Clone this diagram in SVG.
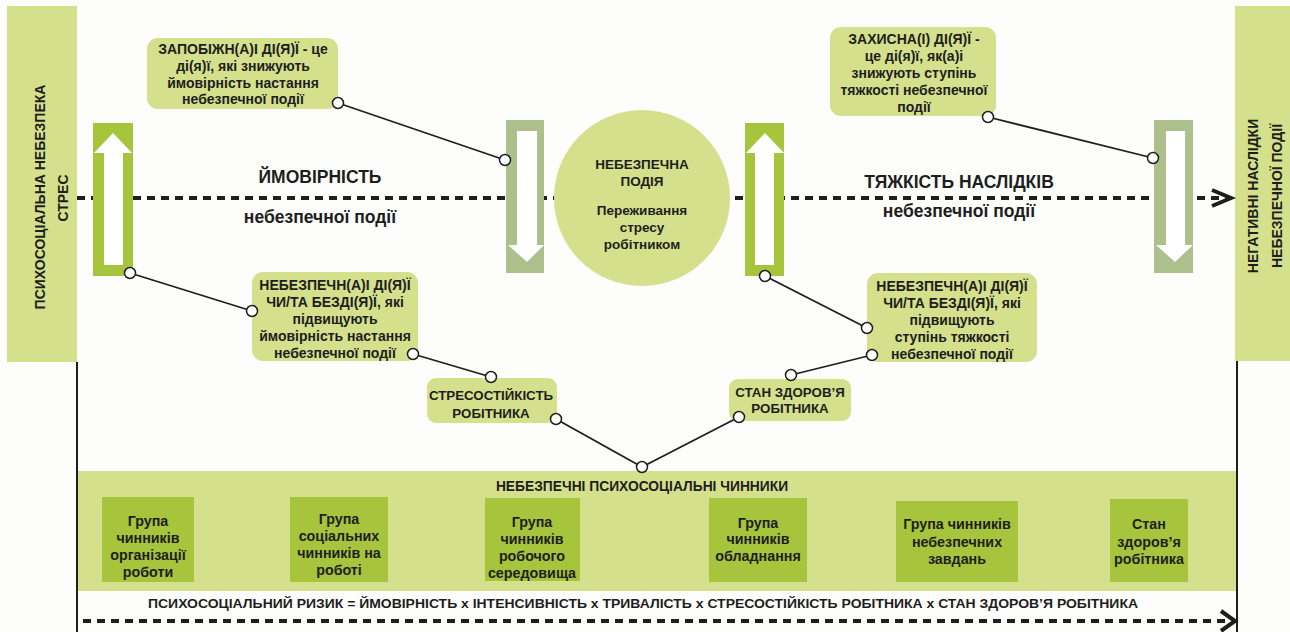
<svg xmlns="http://www.w3.org/2000/svg" width="1290" height="632" viewBox="0 0 1290 632">
<defs>
<style>
.lg{fill:#d4e08b}
.bg{fill:#a6c43c}
.gg{fill:#adbf8b}
.wh{fill:#ffffff}
.t{font-family:"Liberation Sans",Arial,sans-serif;font-weight:bold;fill:#1e1e1e;text-anchor:middle}
.s13{font-size:13.5px}
.sb{font-size:14px}
.sg{font-size:14.3px}
.sh{font-size:13.8px}
.s12{font-size:13.3px}
.s14{font-size:14px}
.s18{font-size:17.5px}
.ln{stroke:#1e1e1e;stroke-width:1.8;fill:none}
.dash{stroke:#1e1e1e;stroke-width:4;stroke-dasharray:8 6;fill:none}
.chev{stroke:#1e1e1e;stroke-width:4;fill:none;stroke-linejoin:miter}
.dot{fill:#ffffff;stroke:#1e1e1e;stroke-width:1.5}
.vl{stroke:#1e1e1e;stroke-width:2}
</style>
</defs>
<rect x="0" y="0" width="1290" height="632" fill="#fdfdfb"/>

<g id="bottom-band">
<rect class="lg" x="77" y="471" width="1160" height="120"/>
<text class="t sh" x="642" y="491">НЕБЕЗПЕЧНІ ПСИХОСОЦІАЛЬНІ ЧИННИКИ</text>
</g>

<g id="left-bar">
<rect class="lg" x="7" y="6" width="70" height="356"/>
<text class="t s14" transform="translate(45,197) rotate(-90)">ПСИХОСОЦІАЛЬНА НЕБЕЗПЕКА</text>
<text class="t s14" transform="translate(68,198) rotate(-90)">СТРЕС</text>
</g>
<g id="right-bar">
<rect class="lg" x="1235" y="6" width="55" height="355"/>
<text class="t s14" transform="translate(1258,196) rotate(-90)">НЕГАТИВНІ НАСЛІДКИ</text>
<text class="t s14" transform="translate(1282,196) rotate(-90)">НЕБЕЗПЕЧНОЇ ПОДІЇ</text>
</g>

<g id="connectors">
<line class="vl" x1="77" y1="362" x2="77" y2="632"/>
<line class="vl" x1="1237" y1="361" x2="1237" y2="632"/>
<line class="dash" x1="77" y1="198" x2="1226" y2="198"/>
<polyline class="chev" points="1212,190 1231,198 1212,206"/>
<line class="dash" x1="83" y1="621" x2="1230" y2="621"/>
<polyline class="chev" points="1221,611 1235,621 1221,631"/>
<line class="ln" x1="338" y1="103" x2="505" y2="160"/>
<line class="ln" x1="988" y1="117" x2="1153" y2="158"/>
<line class="ln" x1="130" y1="273" x2="252" y2="311"/>
<line class="ln" x1="413" y1="354" x2="491" y2="377"/>
<line class="ln" x1="556" y1="419" x2="642" y2="467"/>
<line class="ln" x1="642" y1="467" x2="739" y2="417"/>
<line class="ln" x1="791" y1="375" x2="872" y2="355"/>
<line class="ln" x1="765" y1="276" x2="867" y2="328"/>
</g>

<g id="arrow-left-up">
<rect class="bg" x="93" y="123" width="40" height="153"/>
<polygon class="wh" points="113,133 132,153 123,153 123,265 104,265 104,153 94,153"/>
</g>
<g id="arrow-left-down">
<rect class="gg" x="506" y="120" width="38" height="153"/>
<polygon class="wh" points="517,131 537,131 537,245 544,245 527,262 508,245 517,245"/>
</g>
<g id="arrow-right-up">
<rect class="bg" x="745" y="123" width="39" height="153"/>
<polygon class="wh" points="765,133 784,153 774,153 774,265 755,265 755,153 746,153"/>
</g>
<g id="arrow-right-down">
<rect class="gg" x="1154" y="120" width="39" height="153"/>
<polygon class="wh" points="1166,131 1185,131 1185,245 1193,245 1175,262 1156,245 1166,245"/>
</g>

<g id="labels">
<text class="t s18" x="320" y="183">ЙМОВІРНІСТЬ</text>
<text class="t s18" x="320" y="223">небезпечної події</text>
<text class="t s18" x="959" y="188">ТЯЖКІСТЬ НАСЛІДКІВ</text>
<text class="t s18" x="959" y="217">небезпечної події</text>
</g>

<g id="event">
<circle class="lg" cx="642" cy="198" r="88"/>
<text class="t s13" x="642" y="169">НЕБЕЗПЕЧНА</text>
<text class="t s13" x="642" y="186">ПОДІЯ</text>
<text class="t s13" x="642" y="215">Переживання</text>
<text class="t s13" x="642" y="232">стресу</text>
<text class="t s13" x="642" y="249">робітником</text>
</g>

<g id="preventive">
<rect class="lg" x="147" y="38" width="191" height="71" rx="11"/>
<text class="t sb" x="243" y="54">ЗАПОБІЖН(А)І ДІ(Я)Ї - це</text>
<text class="t sb" x="243" y="71">ді(я)ї, які знижують</text>
<text class="t sb" x="243" y="88">ймовірність настання</text>
<text class="t sb" x="243" y="104">небезпечної події</text>
</g>

<g id="protective">
<rect class="lg" x="830" y="27" width="166" height="89" rx="11"/>
<text class="t sb" x="914" y="44">ЗАХИСНА(І) ДІ(Я)Ї -</text>
<text class="t sb" x="914" y="61">це ді(я)ї, як(а)і</text>
<text class="t sb" x="914" y="78">знижують ступінь</text>
<text class="t sb" x="914" y="95">тяжкості небезпечної</text>
<text class="t sb" x="914" y="112">події</text>
</g>

<g id="hazard-probability">
<rect class="lg" x="252" y="272" width="166" height="89" rx="11"/>
<text class="t sb" x="335" y="290">НЕБЕЗПЕЧН(А)І ДІ(Я)Ї</text>
<text class="t sb" x="335" y="307">ЧИ/ТА БЕЗДІ(Я)Ї, які</text>
<text class="t sb" x="335" y="324">підвищують</text>
<text class="t sb" x="335" y="341">ймовірність настання</text>
<text class="t sb" x="335" y="358">небезпечної події</text>
</g>

<g id="hazard-severity">
<rect class="lg" x="867" y="273" width="170" height="89" rx="11"/>
<text class="t sb" x="952" y="291">НЕБЕЗПЕЧН(А)І ДІ(Я)Ї</text>
<text class="t sb" x="952" y="308">ЧИ/ТА БЕЗДІ(Я)Ї, які</text>
<text class="t sb" x="952" y="325">підвищують</text>
<text class="t sb" x="952" y="342">ступінь тяжкості</text>
<text class="t sb" x="952" y="359">небезпечної події</text>
</g>

<g id="stress-resistance">
<rect class="lg" x="427" y="378" width="130" height="45" rx="9"/>
<text class="t s12" x="491" y="400">СТРЕСОСТІЙКІСТЬ</text>
<text class="t s12" x="491" y="418">РОБІТНИКА</text>
</g>

<g id="health">
<rect class="lg" x="729" y="379" width="122" height="42" rx="9"/>
<text class="t s12" x="790" y="397">СТАН ЗДОРОВ’Я</text>
<text class="t s12" x="790" y="413">РОБІТНИКА</text>
</g>

<g id="dots">
<circle class="dot" cx="338" cy="103" r="5.5"/>
<circle class="dot" cx="505" cy="160" r="5.5"/>
<circle class="dot" cx="988" cy="117" r="5.5"/>
<circle class="dot" cx="1153" cy="158" r="5.5"/>
<circle class="dot" cx="130" cy="273" r="5.5"/>
<circle class="dot" cx="252" cy="311" r="5.5"/>
<circle class="dot" cx="413" cy="354" r="5.5"/>
<circle class="dot" cx="491" cy="377" r="5.5"/>
<circle class="dot" cx="556" cy="419" r="5.5"/>
<circle class="dot" cx="642" cy="467" r="5.5"/>
<circle class="dot" cx="739" cy="417" r="5.5"/>
<circle class="dot" cx="791" cy="375" r="5.5"/>
<circle class="dot" cx="872" cy="355" r="5.5"/>
<circle class="dot" cx="765" cy="276" r="5.5"/>
<circle class="dot" cx="867" cy="328" r="5.5"/>
</g>

<g id="group-organisation">
<rect class="bg" x="102" y="497" width="92" height="85"/>
<text class="t sg" x="148" y="526">Група</text>
<text class="t sg" x="148" y="543">чинників</text>
<text class="t sg" x="148" y="560">організації</text>
<text class="t sg" x="148" y="577">роботи</text>
</g>
<g id="group-social">
<rect class="bg" x="290" y="497" width="98" height="85"/>
<text class="t sg" x="339" y="524">Група</text>
<text class="t sg" x="339" y="541">соціальних</text>
<text class="t sg" x="339" y="558">чинників на</text>
<text class="t sg" x="339" y="575">роботі</text>
</g>
<g id="group-environment">
<rect class="bg" x="485" y="498" width="95" height="83"/>
<text class="t sg" x="532" y="527">Група</text>
<text class="t sg" x="532" y="544">чинників</text>
<text class="t sg" x="532" y="561">робочого</text>
<text class="t sg" x="532" y="578">середовища</text>
</g>
<g id="group-equipment">
<rect class="bg" x="709" y="498" width="98" height="84"/>
<text class="t sg" x="758" y="528">Група</text>
<text class="t sg" x="758" y="544">чинників</text>
<text class="t sg" x="758" y="561">обладнання</text>
</g>
<g id="group-tasks">
<rect class="bg" x="896" y="501" width="122" height="81"/>
<text class="t sg" x="957" y="529">Група чинників</text>
<text class="t sg" x="957" y="547">небезпечних</text>
<text class="t sg" x="957" y="564">завдань</text>
</g>
<g id="group-health">
<rect class="bg" x="1110" y="499" width="78" height="83"/>
<text class="t sg" x="1149" y="529">Стан</text>
<text class="t sg" x="1149" y="547">здоров’я</text>
<text class="t sg" x="1149" y="564">робітника</text>
</g>

<g id="formula">
<text class="t s13" x="643" y="608" textLength="990" lengthAdjust="spacingAndGlyphs">ПСИХОСОЦІАЛЬНИЙ РИЗИК = ЙМОВІРНІСТЬ х ІНТЕНСИВНІСТЬ х ТРИВАЛІСТЬ х СТРЕСОСТІЙКІСТЬ РОБІТНИКА х СТАН ЗДОРОВ’Я РОБІТНИКА</text>
</g>
</svg>
